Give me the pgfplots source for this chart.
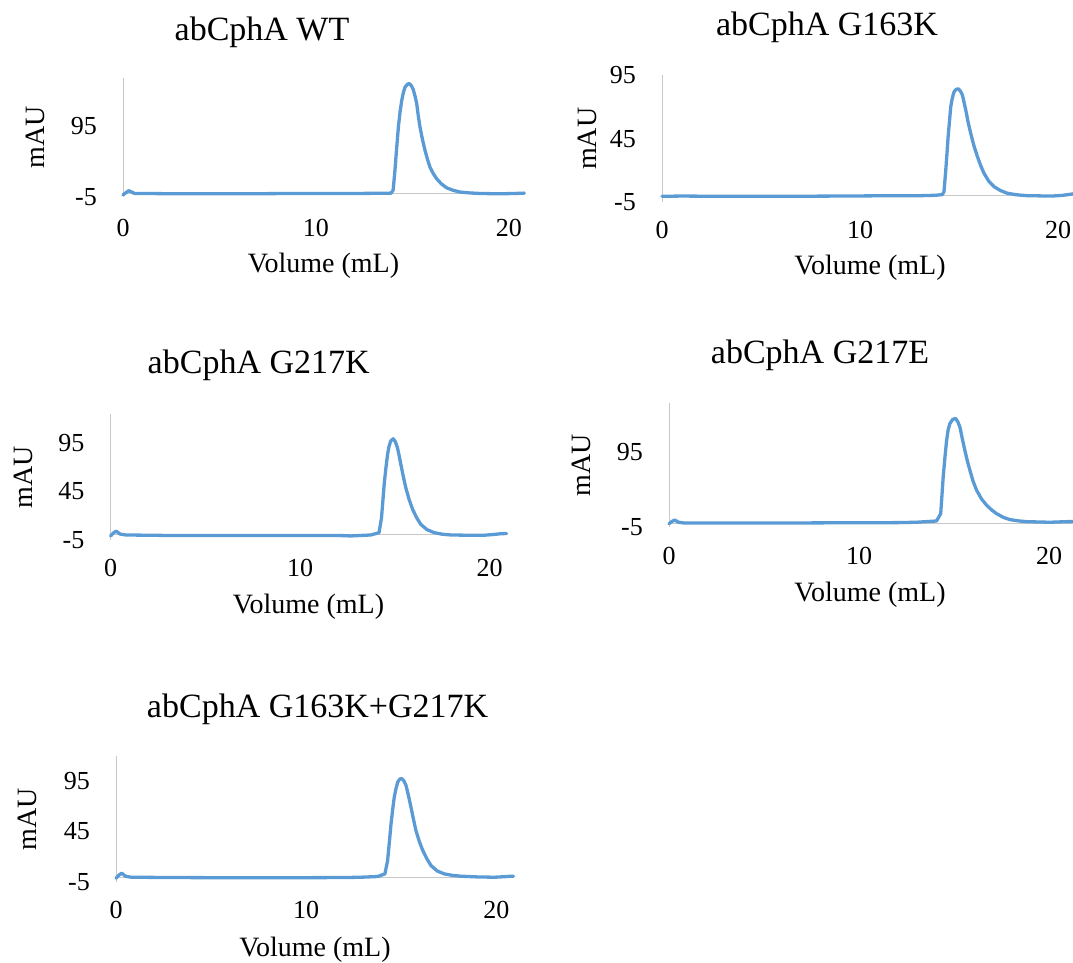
\documentclass[border=0pt]{standalone}
\usepackage{pgfplots}
\pgfplotsset{compat=1.18}
\usepackage{fontspec}
\setmainfont{Liberation Serif}
\definecolor{exblue}{RGB}{91,155,213}
\definecolor{axgray}{RGB}{200,200,200}
\pgfplotsset{
  chrom/.style={
    scale only axis, clip=false,
    axis x line=bottom, axis y line=left,
    x axis line style={draw=none},
    y axis line style={-, draw=axgray, line width=1pt},
    xmin=0, ymin=-5,
    xtick={0,10,20}, xticklabels={0,10,20},
    major tick length=0pt,
    tick label style={font=\fontsize{26}{30}\selectfont, text=black},
    xticklabel style={anchor=center, inner sep=0pt},
    yticklabel style={anchor=east, inner sep=0pt, xshift=-26pt},
  },
  trace/.style={exblue, line width=3.3pt, line join=round, line cap=round, mark=none},
  zline/.style={axgray, line width=1pt, mark=none},
}
\newcommand{\tfont}{\fontsize{34}{40}\selectfont}
\newcommand{\lfont}{\fontsize{28}{33}\selectfont}
\begin{document}
\begin{tikzpicture}
\useasboundingbox (0pt,0pt) rectangle (1073pt,-962pt);

% ---------- Panel 1: WT ----------
\begin{axis}[chrom, at={(123pt,-197pt)}, anchor=south west,
  width=401.4pt, height=118.8pt, xmax=20.8, ymax=163,
  xticklabel style={yshift=-31.3pt},
  ytick={-5,95}, yticklabels={-5,95}]
\addplot[zline] coordinates {(0,0) (20.8,0)};
\addplot[trace] coordinates {
(0,-2) (0.15,1) (0.3,4) (0.45,2) (0.6,0) (1,0) (3,-0.5) (6,-0.5) (9,0) (12,0)
(13.5,0.3) (13.9,0.5) (14.0,5) (14.09,32) (14.18,64) (14.27,94) (14.36,116) (14.44,131)
(14.53,143) (14.61,150) (14.72,154) (14.82,155.5) (14.93,153) (15.04,147) (15.13,138)
(15.22,127) (15.30,110) (15.39,94) (15.52,76) (15.65,61) (15.78,48) (15.91,37) (16.08,28)
(16.25,21) (16.5,13.5) (16.77,8) (17.1,4.5) (17.46,2) (18.0,0.7) (18.5,0) (19.5,-0.5) (20.3,0) (20.8,0.5)
};
\end{axis}
\node[font=\tfont, anchor=base] at (262pt,-40.7pt) {abCphA WT};
\node[font=\lfont, rotate=90] at (35pt,-137.5pt) {mAU};
\node[font=\lfont, anchor=base] at (323.5pt,-272pt) {Volume (mL)};

% ---------- Panel 2: G163K ----------
\begin{axis}[chrom, at={(662pt,-202pt)}, anchor=south west,
  width=427.7pt, height=126.7pt, xmax=21.6, ymax=95,
  xticklabel style={yshift=-28pt},
  ytick={-5,45,95}, yticklabels={-5,45,95}]
\addplot[zline] coordinates {(0,0) (21.6,0)};
\addplot[trace] coordinates {
(0,-0.5) (1,-0.3) (3,-0.5) (6,-0.5) (9,-0.3) (12,0) (13.07,0) (13.8,0.3) (14.15,0.8)
(14.24,3) (14.33,20) (14.39,33) (14.45,46.6) (14.52,59) (14.58,70) (14.66,77) (14.75,82)
(14.86,84) (14.97,84.3) (15.07,82.5) (15.17,79.5) (15.25,74) (15.34,67.6) (15.46,58)
(15.59,49.2) (15.76,39) (15.93,30.8) (16.1,23.5) (16.26,17.7) (16.5,11.5) (16.77,7.1)
(17.1,4) (17.44,1.9) (17.9,0.7) (18.45,0) (19.2,-0.2) (19.8,-0.2) (20.2,0.2) (20.5,0.8) (21,2) (21.5,3)
};
\end{axis}
\node[font=\tfont, anchor=base] at (827pt,-35pt) {abCphA G163K};
\node[font=\lfont, rotate=90] at (587pt,-138.7pt) {mAU};
\node[font=\lfont, anchor=base] at (870pt,-274pt) {Volume (mL)};

% ---------- Panel 3: G217K ----------
\begin{axis}[chrom, at={(110.5pt,-539.8pt)}, anchor=south west,
  width=396.1pt, height=125.7pt, xmax=20.9, ymax=125,
  xticklabel style={yshift=-28pt},
  ytick={-5,45,95}, yticklabels={-5,45,95}]
\addplot[zline] coordinates {(0,0) (20.9,0)};
\addplot[trace] coordinates {
(0,-1) (0.15,2) (0.3,4) (0.5,1) (0.8,0) (3,-0.5) (6,-0.5) (9,-0.5) (12,-0.5)
(12.68,-1) (13.74,0) (14.17,2.4) (14.3,17.9) (14.37,35) (14.44,52.4) (14.53,69) (14.62,83.4)
(14.69,91) (14.78,97) (14.91,99.5) (15.03,96.5) (15.14,90.3) (15.23,82) (15.32,73)
(15.45,60.5) (15.58,48.9) (15.76,36.5) (15.94,26.6) (16.15,18) (16.37,11) (16.7,5.5)
(17.08,2.4) (17.5,0.8) (17.96,0) (19.0,-0.3) (19.7,-0.3) (20.2,0.5) (20.6,1.3) (20.9,1.5)
};
\end{axis}
\node[font=\tfont, anchor=base] at (258.7pt,-373.3pt) {abCphA G217K};
\node[font=\lfont, rotate=90] at (23pt,-477pt) {mAU};
\node[font=\lfont, anchor=base] at (308.5pt,-613.5pt) {Volume (mL)};

% ---------- Panel 4: G217E ----------
\begin{axis}[chrom, at={(669pt,-526.75pt)}, anchor=south west,
  width=410.4pt, height=123.75pt, xmax=21.6, ymax=160,
  xticklabel style={yshift=-29.3pt},
  ytick={-5,95}, yticklabels={-5,95}]
\addplot[zline] coordinates {(0,0) (21.6,0)};
\addplot[trace] coordinates {
(0,-1) (0.15,2) (0.3,4) (0.5,1) (0.8,0) (3,0) (6,0) (9,0.3) (12,0.5)
(13,1) (14.08,2.7) (14.3,12.5) (14.36,35) (14.43,61) (14.52,87) (14.61,110) (14.69,124)
(14.78,132.5) (14.93,138) (15.08,139.5) (15.2,135) (15.31,128) (15.44,112) (15.57,97)
(15.7,83) (15.84,70) (16.0,56) (16.19,43.6) (16.45,32) (16.72,23.6) (17.0,17) (17.24,12.5)
(17.6,7.5) (17.94,4.5) (18.4,2.8) (18.82,1.8) (20.05,1) (20.9,1.8) (21.5,2)
};
\end{axis}
\node[font=\tfont, anchor=base] at (820pt,-363.3pt) {abCphA G217E};
\node[font=\lfont, rotate=90] at (581pt,-465pt) {mAU};
\node[font=\lfont, anchor=base] at (870pt,-601.7pt) {Volume (mL)};

% ---------- Panel 5: G163K+G217K ----------
\begin{axis}[chrom, at={(116pt,-882.3pt)}, anchor=south west,
  width=397.5pt, height=126.1pt, xmax=20.9, ymax=119,
  xticklabel style={yshift=-27.7pt},
  ytick={-5,45,95}, yticklabels={-5,45,95}]
\addplot[zline] coordinates {(0,0) (20.9,0)};
\addplot[trace] coordinates {
(0,-1) (0.15,2) (0.3,4) (0.5,1) (0.8,0) (3,-0.3) (6,-0.5) (9,-0.5) (12,-0.3)
(12.88,0) (13.76,0.7) (14.14,3.3) (14.28,16.4) (14.37,34) (14.46,52.5) (14.55,67) (14.63,78.7)
(14.72,87) (14.81,93.4) (14.92,96.5) (15.02,97) (15.13,95) (15.25,90.2) (15.38,80)
(15.51,68.8) (15.64,57) (15.77,45.9) (15.95,35) (16.13,26.3) (16.35,18) (16.56,11.5)
(16.9,6) (17.26,3.3) (17.7,1.8) (18.14,1) (19.0,0.3) (19.9,0) (20.4,0.5) (20.77,1) (20.9,1)
};
\end{axis}
\node[font=\tfont, anchor=base] at (317.6pt,-717.5pt) {abCphA G163K+G217K};
\node[font=\lfont, rotate=90] at (27.7pt,-819pt) {mAU};
\node[font=\lfont, anchor=base] at (315pt,-956.7pt) {Volume (mL)};
\end{tikzpicture}
\end{document}
